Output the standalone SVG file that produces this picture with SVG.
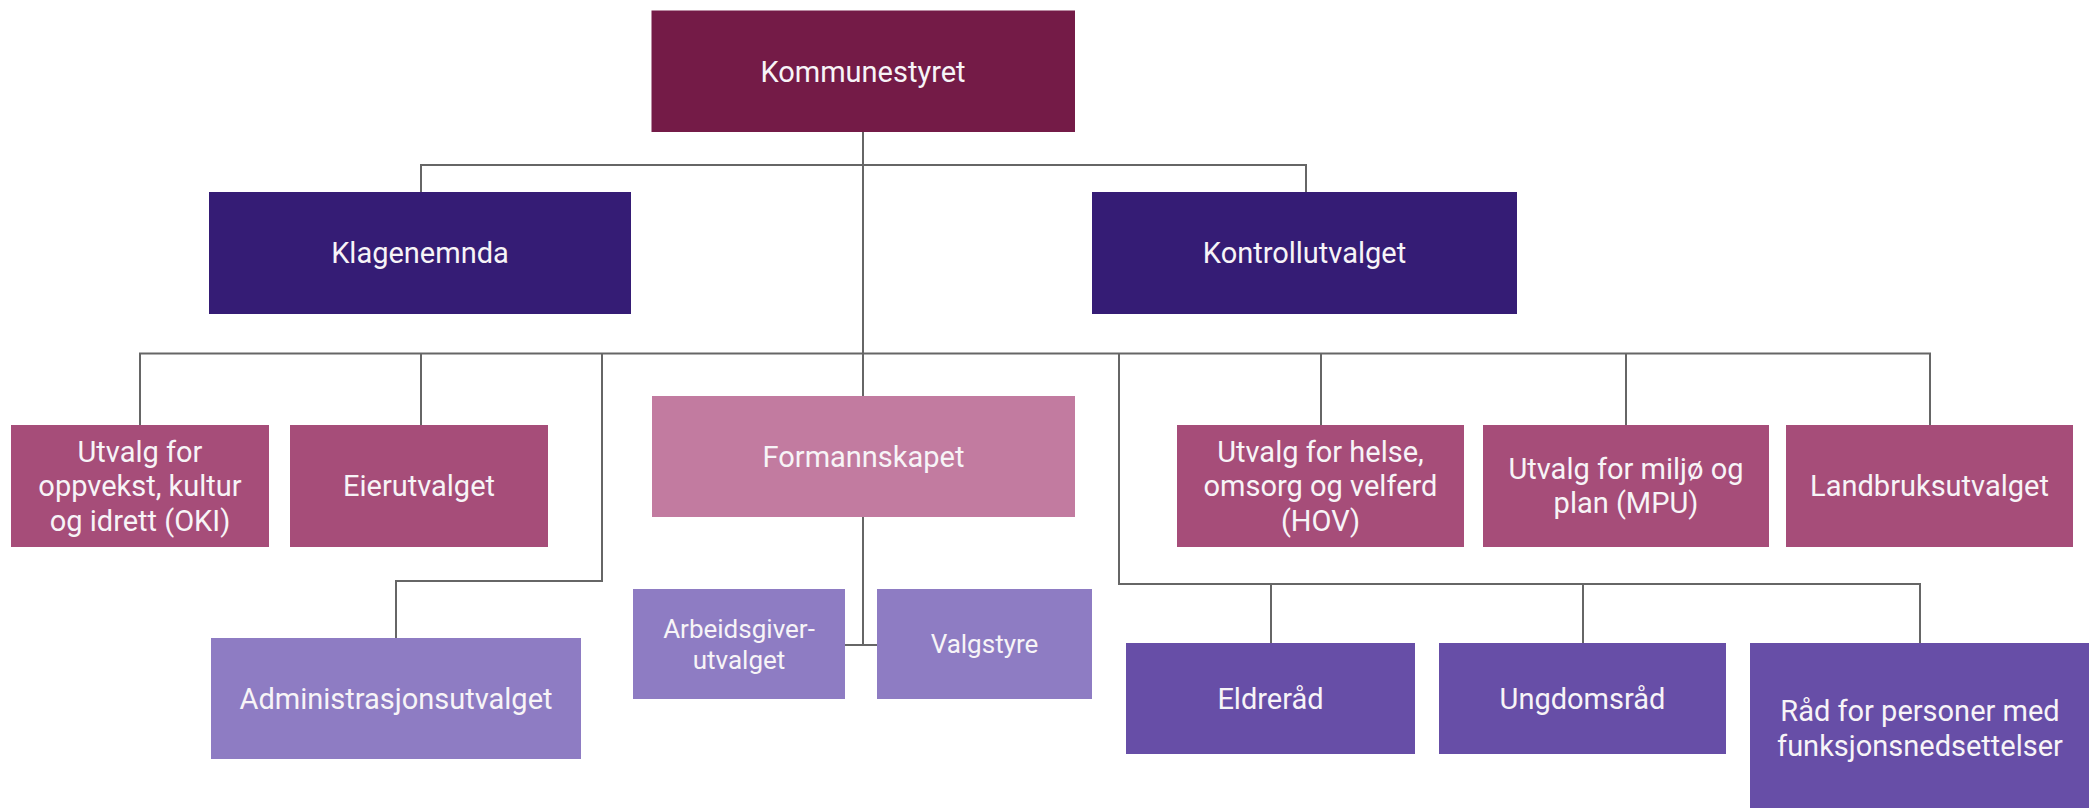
<svg xmlns="http://www.w3.org/2000/svg" width="2089" height="808" viewBox="0 0 2089 808">
<style>
  text { font-family: Roboto, "Liberation Sans", sans-serif; font-size: 29px; fill: #f7f4f7; text-anchor: middle; }
  .small { font-size: 26px; }
  .c1 { fill: #741b47; }
  .c2 { fill: #351c75; }
  .c3 { fill: #a64d79; }
  .c4 { fill: #c27ba0; }
  .c5 { fill: #8e7cc3; }
  .c6 { fill: #674ea7; }
  #connectors path { fill: none; stroke: #666666; stroke-width: 2; }
</style>
<rect width="2089" height="808" fill="#ffffff"/>
<g id="connectors">
  <path d="M863 132 V396"/>
  <path d="M421 192 V165 H1306 V192"/>
  <path d="M140 425 V353.5 H1930 V425"/>
  <path d="M421 353.5 V425"/>
  <path d="M1321 353.5 V425"/>
  <path d="M1626 353.5 V425"/>
  <path d="M602 353.5 V581 H396 V638"/>
  <path d="M1119 353.5 V584 H1920 V643"/>
  <path d="M1271 584 V643"/>
  <path d="M1583 584 V643"/>
  <path d="M863 517 V645 M845 645 H877"/>
</g>
<g id="kommunestyret"><rect class="c1" x="651.5" y="10.5" width="423.5" height="121.5"/><text x="863" y="81.5">Kommunestyret</text></g>
<g id="klagenemnda"><rect class="c2" x="209" y="192" width="422" height="122"/><text x="420" y="263">Klagenemnda</text></g>
<g id="kontrollutvalget"><rect class="c2" x="1092" y="192" width="425" height="122"/><text x="1304.5" y="263">Kontrollutvalget</text></g>
<g id="oki"><rect class="c3" x="11" y="425" width="258" height="122"/><text x="140" y="461.5">Utvalg for</text><text x="140" y="496">oppvekst, kultur</text><text x="140" y="530.5">og idrett (OKI)</text></g>
<g id="eierutvalget"><rect class="c3" x="290" y="425" width="258" height="122"/><text x="419" y="496">Eierutvalget</text></g>
<g id="formannskapet"><rect class="c4" x="652" y="396" width="423" height="121"/><text x="863.5" y="467">Formannskapet</text></g>
<g id="hov"><rect class="c3" x="1177" y="425" width="287" height="122"/><text x="1320.5" y="461.5">Utvalg for helse,</text><text x="1320.5" y="496">omsorg og velferd</text><text x="1320.5" y="530.5">(HOV)</text></g>
<g id="mpu"><rect class="c3" x="1483" y="425" width="286" height="122"/><text x="1626" y="478.75">Utvalg for miljø og</text><text x="1626" y="513.25">plan (MPU)</text></g>
<g id="landbruksutvalget"><rect class="c3" x="1786" y="425" width="287" height="122"/><text x="1929.5" y="496">Landbruksutvalget</text></g>
<g id="administrasjonsutvalget"><rect class="c5" x="211" y="638" width="370" height="121"/><text x="396" y="709">Administrasjonsutvalget</text></g>
<g id="arbeidsgiverutvalget"><rect class="c5" x="633" y="589" width="212" height="110"/><text class="small" x="739" y="637.7">Arbeidsgiver-</text><text class="small" x="739" y="668.7">utvalget</text></g>
<g id="valgstyre"><rect class="c5" x="877" y="589" width="215" height="110"/><text class="small" x="984.5" y="653">Valgstyre</text></g>
<g id="eldrerad"><rect class="c6" x="1126" y="643" width="289" height="111"/><text x="1270.5" y="709">Eldreråd</text></g>
<g id="ungdomsrad"><rect class="c6" x="1439" y="643" width="287" height="111"/><text x="1582.5" y="709">Ungdomsråd</text></g>
<g id="rad-personer"><rect class="c6" x="1750" y="643" width="340" height="171"/><text x="1920" y="721">Råd for personer med</text><text x="1920" y="756">funksjonsnedsettelser</text></g>
</svg>
